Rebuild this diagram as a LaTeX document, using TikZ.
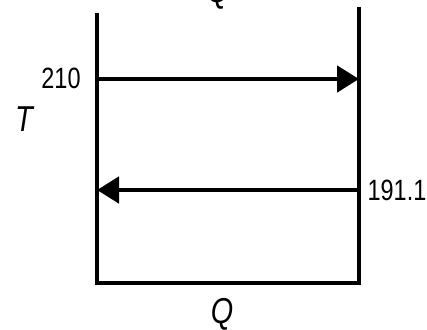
\documentclass[tikz,border=0pt]{standalone}
\usepackage{fontspec}
\setmainfont{Liberation Sans}
\usetikzlibrary{arrows.meta}
\newcommand{\narrow}[1]{\scalebox{0.8}[1]{#1}}
\begin{document}
\begin{tikzpicture}[x=0.75pt, y=-0.75pt, >={Triangle[length=16.5pt,width=19.5pt]}, line join=miter,
    num/.style={font=\fontsize{22}{24}\selectfont, inner sep=0pt},
    axis/.style={font=\fontsize{27}{30}\selectfont\itshape, inner sep=0pt}]
    \useasboundingbox (0,0) rectangle (427,329);
    % box walls
    \coordinate (lt) at (97,13);
    \coordinate (lb) at (97,283);
    \coordinate (rb) at (359,283);
    \coordinate (rt) at (359,7);
    \draw[line width=2.3pt] (lt) -- (lb) -- (rb) -- (rt);

    % upper flow
    \coordinate (hotL) at (97,79);
    \coordinate (hotR) at (359,79);
    \draw[->, line width=3.6pt] (hotL) -- (hotR);
    % lower flow
    \coordinate (coldR) at (357,190);
    \coordinate (coldL) at (97,190);
    \draw[->, line width=3.6pt] (coldR) -- (coldL);

    % labels
    \node[num] (tHot) at (61,78) {\narrow{210}};
    \node[num] (tCold) at (397,190) {\narrow{191.1}};
    \node[axis] (tAxis) at (24,119) {\narrow{T}};
    \node[axis] (qTop) at (218,-7) {\narrow{Q}};
    \node[axis] (qBot) at (222,314) {\narrow{Q}};
\end{tikzpicture}
\end{document}
